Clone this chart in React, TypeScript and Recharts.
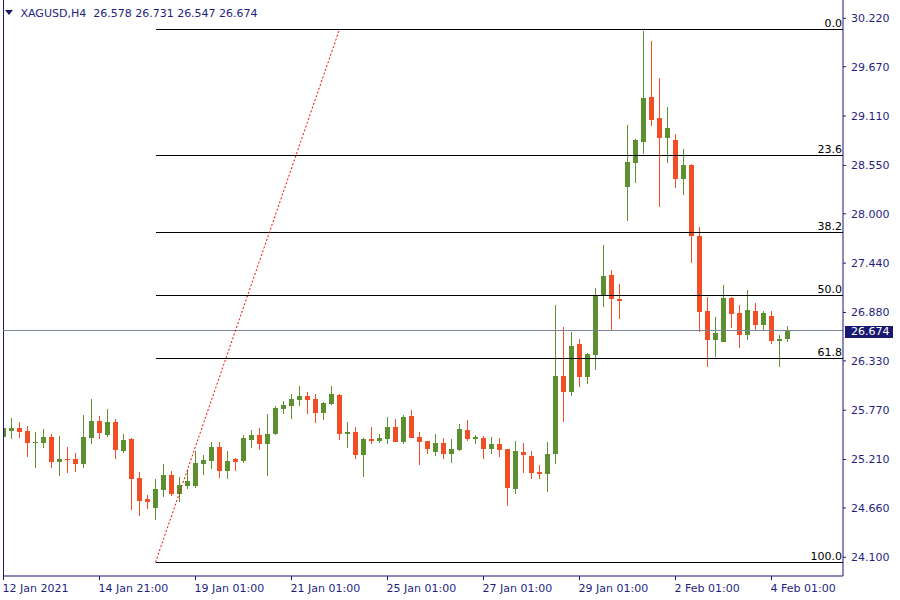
import React from 'react';
import { ComposedChart, Bar, XAxis, YAxis, ReferenceLine } from 'recharts';

const symbol = 'XAGUSD';
const timeframe = 'H4';

const opens = [
  25.469, 25.537, 25.568, 25.534, 25.401, 25.401, 25.466, 25.185, 25.216, 25.216,
  25.163, 25.458, 25.648, 25.489, 25.636, 25.310, 25.443, 25.000, 24.765, 24.663,
  24.867, 25.034, 24.822, 24.909, 24.909, 25.163, 25.196, 25.352, 25.083, 25.216,
  25.196, 25.435, 25.489, 25.390, 25.500, 25.787, 25.821, 25.889, 25.931, 25.897,
  25.742, 25.841, 25.943, 25.503, 25.526, 25.265, 25.443, 25.424, 25.447, 25.579,
  25.412, 25.704, 25.466, 25.420, 25.299, 25.398, 25.276, 25.322, 25.545, 25.443,
  25.455, 25.333, 25.386, 25.330, 24.879, 25.296, 25.250, 25.072, 25.049, 25.269,
  26.159, 25.980, 26.522, 26.151, 26.400, 27.066, 27.305, 27.032, 28.308, 28.581,
  28.819, 29.326, 29.088, 28.865, 28.839, 28.399, 28.555, 27.751, 26.896, 26.570,
  26.548, 27.044, 26.873, 26.623, 26.896, 26.740, 26.839, 26.558, 26.578,
];
const highs = [
  25.636, 25.682, 25.636, 25.591, 25.523, 25.557, 25.500, 25.477, 25.352, 25.284,
  25.719, 25.897, 25.704, 25.784, 25.670, 25.500, 25.455, 25.068, 24.811, 24.989,
  25.159, 25.080, 25.012, 25.091, 25.307, 25.261, 25.412, 25.412, 25.307, 25.222,
  25.489, 25.545, 25.568, 25.727, 25.818, 25.875, 25.954, 26.045, 25.977, 25.954,
  25.863, 26.045, 25.954, 25.640, 25.583, 25.455, 25.583, 25.500, 25.696, 25.670,
  25.716, 25.773, 25.523, 25.425, 25.500, 25.455, 25.443, 25.613, 25.659, 25.489,
  25.477, 25.466, 25.455, 25.335, 25.420, 25.398, 25.307, 25.148, 25.409, 26.965,
  26.715, 26.662, 26.579, 26.420, 27.157, 27.646, 27.362, 27.203, 29.009, 28.850,
  30.075, 29.962, 29.545, 29.216, 28.907, 28.736, 28.560, 27.854, 27.058, 26.831,
  27.191, 27.050, 26.964, 27.135, 26.987, 26.896, 26.896, 26.623, 26.731,
];
const lows = [
  25.447, 25.447, 25.455, 25.242, 25.114, 25.344, 25.114, 25.026, 25.060, 25.072,
  25.117, 25.390, 25.447, 25.466, 25.219, 25.288, 24.640, 24.572, 24.652, 24.523,
  24.788, 24.799, 24.731, 24.879, 24.887, 25.037, 25.106, 25.004, 24.992, 25.083,
  25.175, 25.341, 25.318, 25.026, 25.489, 25.730, 25.674, 25.821, 25.730, 25.628,
  25.662, 25.829, 25.435, 25.344, 25.219, 25.015, 25.390, 25.401, 25.390, 25.405,
  25.390, 25.452, 25.151, 25.276, 25.254, 25.219, 25.175, 25.310, 25.424, 25.390,
  25.219, 25.276, 25.242, 24.686, 24.822, 25.060, 24.992, 24.992, 24.845, 25.163,
  25.640, 25.935, 26.037, 26.071, 26.230, 26.945, 26.669, 26.809, 27.922, 28.354,
  28.683, 29.000, 28.081, 28.572, 28.297, 28.217, 27.445, 26.661, 26.263, 26.377,
  26.543, 26.706, 26.475, 26.566, 26.672, 26.683, 26.520, 26.263, 26.547,
];
const closes = [
  25.568, 25.568, 25.523, 25.401, 25.409, 25.466, 25.185, 25.216, 25.208, 25.163,
  25.466, 25.648, 25.515, 25.636, 25.322, 25.432, 24.989, 24.743, 24.731, 24.875,
  25.034, 24.822, 24.921, 24.966, 25.171, 25.208, 25.352, 25.083, 25.193, 25.185,
  25.455, 25.489, 25.390, 25.500, 25.795, 25.829, 25.897, 25.931, 25.886, 25.742,
  25.852, 25.954, 25.503, 25.526, 25.265, 25.443, 25.424, 25.455, 25.579, 25.412,
  25.693, 25.458, 25.412, 25.333, 25.398, 25.276, 25.330, 25.557, 25.447, 25.466,
  25.333, 25.386, 25.322, 24.890, 25.307, 25.265, 25.060, 25.049, 25.273, 26.159,
  25.980, 26.499, 26.151, 26.408, 27.066, 27.294, 27.036, 27.013, 28.589, 28.839,
  29.315, 29.068, 28.865, 28.975, 28.399, 28.555, 27.751, 26.888, 26.570, 26.646,
  27.044, 26.865, 26.623, 26.907, 26.740, 26.873, 26.558, 26.581, 26.674,
];

const timeTickIndex = [0, 12, 24, 36, 48, 60, 72, 84, 96];
const timeTickLabels = [
  '12 Jan 2021', '14 Jan 21:00', '19 Jan 01:00', '21 Jan 01:00', '25 Jan 01:00',
  '27 Jan 01:00', '29 Jan 01:00', '2 Feb 01:00', '4 Feb 01:00',
];
const priceTicks = [24.1, 24.66, 25.21, 25.77, 26.33, 26.88, 27.44, 28.0, 28.55, 29.11, 29.67, 30.22];

const fibHigh = 30.095;
const fibLow = 24.043;
const fibLevels = [0, 23.6, 38.2, 50, 61.8, 100];
const fibStartIndex = 19;
const trendEndIndex = 42;

const yDomain: [number, number] = [23.8873, 30.4278];
const xDomain: [number, number] = [-0.0625, 104.9375];

const GREEN = '#5b8f2f';
const RED = '#f24e26';
const NAVY = '#191970';
const TEXT = '#1f1f80';
const PRICE_LINE = '#7a8799';
const FONT = '"DejaVu Sans", Verdana, sans-serif';

const data = opens.map((o, i) => ({
  i,
  open: o,
  high: highs[i],
  low: lows[i],
  close: closes[i],
  range: [lows[i], highs[i]],
}));

const last = data[data.length - 1];

const Candle = (props: any) => {
  const { x, y, width, height, payload } = props;
  if (!payload || x == null || y == null) return null;
  const { open, close, high, low } = payload;
  const top = Math.min(y, y + height);
  const h = Math.abs(height);
  const toY = (p: number) => top + ((high - p) / (high - low)) * h;
  const cx = x + width / 2;
  const color = close >= open ? GREEN : RED;
  const bodyTop = Math.round(toY(Math.max(open, close)));
  const bodyBot = Math.round(toY(Math.min(open, close)));
  const wickTop = Math.round(toY(high));
  const wickBot = Math.round(toY(low));
  const left = Math.round(cx - 2.5);
  return (
    <g shapeRendering="crispEdges">
      <rect x={left + 2} y={wickTop} width={1} height={Math.max(1, wickBot - wickTop)} fill={color} />
      <rect x={left} y={bodyTop} width={5} height={Math.max(1, bodyBot - bodyTop)} fill={color} />
    </g>
  );
};

const TimeTick = (props: any) => {
  const { x, y, payload } = props;
  const idx = timeTickIndex.indexOf(payload.value);
  return (
    <text x={x - 1} y={y} dy={9.5} textAnchor="start" fill={TEXT} fontSize={11} fontFamily={FONT}>
      {timeTickLabels[idx]}
    </text>
  );
};

const fibLabel = (text: string) => (props: any) => {
  const vb = props.viewBox || {};
  const right = (vb.x ?? 0) + (vb.width ?? 0);
  return (
    <text x={right - 1} y={(vb.y ?? 0) - 2.5} textAnchor="end" fill="#000" fontSize={11} fontFamily={FONT}>
      {text}
    </text>
  );
};

const priceLabel = (props: any) => {
  const vb = props.viewBox || {};
  const right = (vb.x ?? 0) + (vb.width ?? 0);
  const yy = Math.round(vb.y ?? 0);
  return (
    <g>
      <rect x={right + 2} y={yy - 5.5} width={48} height={12} fill={NAVY} shapeRendering="crispEdges" />
      <text x={right + 8} y={yy} dy="0.355em" fill="#fff" fontSize={11} fontFamily={FONT}>
        {last.close.toFixed(3)}
      </text>
    </g>
  );
};

export default function App() {
  const headerText = `${symbol},${timeframe}  ${last.open.toFixed(3)} ${last.high.toFixed(3)} ${last.low.toFixed(3)} ${last.close.toFixed(3)}`;
  return (
    <div style={{ position: 'absolute', left: 0, top: 0, width: 900, height: 600, background: '#fff' }}>
      <ComposedChart
        width={900}
        height={600}
        data={data}
        margin={{ top: 0, right: 0, bottom: 0, left: 3 }}
        style={{ background: '#fff' }}
      >
        <XAxis
          type="number"
          dataKey="i"
          domain={xDomain}
          allowDataOverflow
          ticks={timeTickIndex}
          interval={0}
          height={24}
          tickSize={4}
          tickMargin={2}
          tick={<TimeTick />}
          axisLine={{ stroke: NAVY }}
          tickLine={{ stroke: NAVY }}
        />
        <YAxis
          orientation="right"
          type="number"
          domain={yDomain}
          allowDataOverflow
          ticks={priceTicks}
          interval={0}
          width={57}
          tickSize={3}
          tickMargin={5}
          axisLine={{ stroke: NAVY }}
          tickLine={{ stroke: NAVY }}
          tick={{ fill: TEXT, fontSize: 11, fontFamily: FONT, textAnchor: 'start' }}
          tickFormatter={(v: number) => v.toFixed(3)}
        />
        <ReferenceLine
          x={xDomain[0]}
          stroke={NAVY}
          strokeWidth={1}
          shapeRendering="crispEdges"
        />
        <ReferenceLine
          y={last.close}
          stroke={PRICE_LINE}
          strokeWidth={1}
          shapeRendering="crispEdges"
          label={priceLabel}
        />
        {fibLevels.map((lv) => {
          const p = fibHigh - ((fibHigh - fibLow) * lv) / 100;
          return (
            <ReferenceLine
              key={lv}
              segment={[
                { x: fibStartIndex, y: p },
                { x: xDomain[1], y: p },
              ]}
              stroke="#000"
              strokeWidth={1}
              shapeRendering="crispEdges"
              label={fibLabel(lv.toFixed(1))}
            />
          );
        })}
        <ReferenceLine
          segment={[
            { x: fibStartIndex, y: fibLow },
            { x: trendEndIndex, y: fibHigh },
          ]}
          stroke="#ff0000"
          strokeWidth={1}
          strokeDasharray="2 2"
        />
        <Bar dataKey="range" barSize={5} shape={<Candle />} isAnimationActive={false} />
      </ComposedChart>
      <svg width={300} height={24} style={{ position: 'absolute', left: 0, top: 0 }}>
        <polygon points="5,10 13,10 9,15" fill={NAVY} />
        <text x={20.5} y={17} fill={TEXT} fontSize={11} fontFamily={FONT} style={{ whiteSpace: 'pre' }}>
          {headerText}
        </text>
      </svg>
    </div>
  );
}
